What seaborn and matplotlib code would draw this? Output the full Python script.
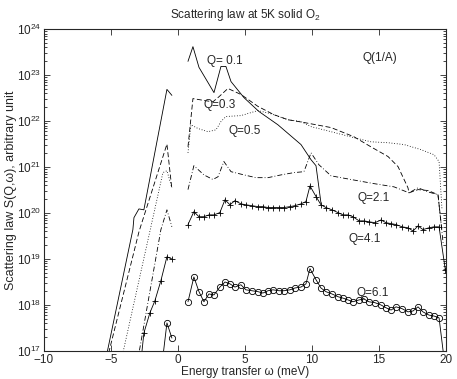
"""
Scattering law S(Q, w) of solid O2 at 5 K, several Q values.
Values read off the original figure (log10 of S, arbitrary unit).
"""

import numpy as np
import pandas as pd
import matplotlib
matplotlib.use("Agg")
import matplotlib.pyplot as plt
import seaborn as sns
from matplotlib.ticker import LogLocator, NullFormatter, MultipleLocator

sns.set_theme(style="ticks")
plt.rcParams["font.family"] = ["Liberation Sans", "DejaVu Sans"]
plt.rcParams["mathtext.default"] = "regular"

# ------------------------------------------------------------------ #
# data: energy transfer (meV) and log10 S(Q,w)
# ------------------------------------------------------------------ #
# energy-gain side (negative w)
q01_left_e = [-5.4, -3.36, -3.28, -2.91, -2.54, -0.82, -0.45]
q01_left_s = [16.8, 19.64, 19.90, 20.09, 20.07, 22.69, 22.56]
q03_left_e = [-5.3, -2.9, -0.82, -0.45]
q03_left_s = [16.8, 19.6, 21.50, 20.52]
q05_left_e = [-4.3, -1.12, -0.82, -0.45]
q05_left_s = [16.7, 20.88, 20.92, 20.55]
q21_left_e = [-3.0, -1.27, -0.82, -0.45]
q21_left_s = [16.8, 19.64, 20.07, 19.70]
q41_left_e = [-2.75, -2.54, -2.09, -1.72, -1.27, -0.82, -0.45]
q41_left_s = [16.8, 17.39, 17.83, 18.09, 18.53, 19.05, 19.00]
q61_left_e = [-1.15, -0.82, -0.45]
q61_left_s = [16.8, 17.61, 17.28]

# energy-loss side (positive w)
q01_right_e = [0.75, 1.12, 1.57, 2.69, 3.21, 3.58, 3.96, 4.93, 6.04,
               7.46, 9.18, 9.93, 10.30, 10.67]
q01_right_s = [23.30, 23.62, 23.17, 22.62, 23.19, 23.19, 22.86, 22.51, 22.21,
               21.92, 21.49, 21.16, 21.03, 20.22]
q03_right_e = [0.75, 1.12, 1.94, 2.61, 3.06, 3.73, 4.70, 5.97, 7.16, 8.21,
               9.40, 11.42, 13.13, 14.40, 15.67, 16.42, 17.16, 17.24, 17.91,
               18.66, 19.40, 19.70]
q03_right_s = [21.44, 22.49, 22.45, 22.42, 22.53, 22.71, 22.58, 22.32, 22.14,
               22.03, 21.97, 21.86, 21.66, 21.44, 21.23, 21.01, 20.55, 20.44,
               20.51, 20.49, 20.40, 19.60]
q05_right_e = [0.75, 0.97, 1.49, 2.24, 2.84, 3.21, 3.58, 4.70, 5.97, 6.94,
               8.21, 9.18, 9.93, 11.42, 13.13, 14.40, 15.67, 16.87, 18.13,
               19.10, 19.48, 19.70]
q05_right_s = [21.31, 21.92, 21.84, 21.77, 21.81, 21.99, 22.10, 22.12, 22.23,
               22.16, 22.03, 21.99, 21.88, 21.77, 21.64, 21.55, 21.53, 21.49,
               21.38, 21.27, 21.12, 20.07]
q21_right_e = [0.75, 1.19, 1.94, 2.61, 2.99, 3.43, 3.96, 4.93, 5.82, 6.72,
               7.69, 8.66, 9.40, 9.93, 10.52, 11.42, 12.91, 14.63, 16.12,
               17.24, 17.91, 18.66, 19.40, 19.80]
q21_right_s = [20.51, 21.03, 20.83, 20.73, 20.79, 21.12, 20.90, 20.83, 20.77,
               20.77, 20.83, 20.88, 20.90, 21.31, 21.05, 20.81, 20.73, 20.64,
               20.57, 20.44, 20.55, 20.46, 20.40, 19.30]

# marker curves share one energy grid
e_grid = [0.75, 1.19, 1.57, 1.94, 2.31, 2.69, 3.13, 3.51, 3.88, 4.25, 4.70,
          5.07, 5.52, 5.97, 6.34, 6.72, 7.09, 7.54, 7.91, 8.36, 8.73, 9.18,
          9.55, 9.85, 10.30, 10.67, 11.04, 11.49, 11.94, 12.31, 12.69, 13.06,
          13.51, 13.88, 14.25, 14.70, 15.15, 15.52, 15.90, 16.27, 16.72,
          17.16, 17.54, 17.91, 18.28, 18.73, 19.10, 19.48, 19.95]
q41_right_s = [19.75, 20.03, 19.92, 19.92, 19.96, 19.96, 20.01, 20.29, 20.18,
               20.27, 20.20, 20.18, 20.16, 20.14, 20.14, 20.12, 20.12, 20.12,
               20.12, 20.14, 20.16, 20.20, 20.25, 20.59, 20.36, 20.18, 20.12,
               20.07, 20.01, 19.96, 19.96, 19.92, 19.83, 19.83, 19.81, 19.79,
               19.85, 19.79, 19.77, 19.75, 19.70, 19.68, 19.61, 19.72, 19.64,
               19.68, 19.70, 19.70, 18.76]
q61_right_s = [18.07, 18.61, 18.29, 18.07, 18.24, 18.22, 18.39, 18.50, 18.46,
               18.39, 18.44, 18.33, 18.31, 18.29, 18.26, 18.31, 18.33, 18.31,
               18.31, 18.33, 18.37, 18.39, 18.46, 18.79, 18.55, 18.37, 18.29,
               18.24, 18.18, 18.15, 18.11, 18.07, 18.11, 18.13, 18.07, 18.05,
               18.00, 17.94, 17.89, 17.96, 17.92, 17.85, 17.87, 17.96, 17.85,
               17.78, 17.76, 17.72, 16.60]

curve_labels = ["Q= 0.1", "Q=0.3", "Q=0.5", "Q=2.1", "Q=4.1", "Q=6.1"]
label_e = [2.2, 1.9, 3.8, 13.4, 12.7, 13.3]
label_s = [23.30, 22.34, 21.79, 20.33, 19.44, 18.26]

# ------------------------------------------------------------------ #
# plot
# ------------------------------------------------------------------ #
curves = [
    (q01_left_e, q01_left_s, q01_right_e, q01_right_s, "-", None),
    (q03_left_e, q03_left_s, q03_right_e, q03_right_s, (0, (6, 3)), None),
    (q05_left_e, q05_left_s, q05_right_e, q05_right_s, (0, (1, 2.2)), None),
    (q21_left_e, q21_left_s, q21_right_e, q21_right_s, (0, (6, 2.5, 1, 2.5)), None),
    (q41_left_e, q41_left_s, e_grid, q41_right_s, "-", "+"),
    (q61_left_e, q61_left_s, e_grid, q61_right_s, "-", "o"),
]

fig, ax = plt.subplots(figsize=(4.57, 3.79), dpi=100)
fig.subplots_adjust(left=0.096, right=0.976, bottom=0.074, top=0.923)

for le, ls, re, rs, style, mk in curves:
    for e, s in [(le, ls), (re, rs)]:
        seg = pd.DataFrame({"energy": e, "S": np.power(10.0, s)})
        sns.lineplot(data=seg, x="energy", y="S", ax=ax, sort=False,
                     estimator=None, color="black", lw=0.6, linestyle=style,
                     marker=mk, markersize=4.5 if mk == "o" else 5,
                     markerfacecolor="none", markeredgecolor="black",
                     markeredgewidth=0.6)

for txt, e, s in zip(curve_labels, label_e, label_s):
    ax.text(e, 10 ** s, txt, fontsize=8.5, va="center", ha="left")
ax.text(13.8, 10 ** 23.38, "Q(1/A)", fontsize=8.5, va="center", ha="left")

ax.set_yscale("log")
ax.set_xlim(-10, 20)
ax.set_ylim(1e17, 1e24)
ax.xaxis.set_major_locator(MultipleLocator(5))
ax.yaxis.set_major_locator(LogLocator(base=10, numticks=10))
ax.yaxis.set_minor_locator(LogLocator(base=10, subs=np.arange(2, 10), numticks=20))
ax.yaxis.set_minor_formatter(NullFormatter())
ax.tick_params(which="both", direction="in", top=True, right=True,
               labelsize=8.5, width=0.6)
ax.tick_params(axis="x", pad=2)
ax.tick_params(axis="y", pad=2)
ax.tick_params(which="major", length=4)
ax.tick_params(which="minor", length=2)
for sp in ax.spines.values():
    sp.set_linewidth(0.8)

ax.set_xlabel("Energy transfer ω (meV)", fontsize=8.5, labelpad=0)
ax.set_ylabel("Scattering law S(Q,ω), arbitrary unit", fontsize=9, labelpad=0)
ax.set_title("Scattering law at 5K solid O$_2$", fontsize=8.5, pad=8)

plt.savefig("out.png", dpi=100)
plt.close()
